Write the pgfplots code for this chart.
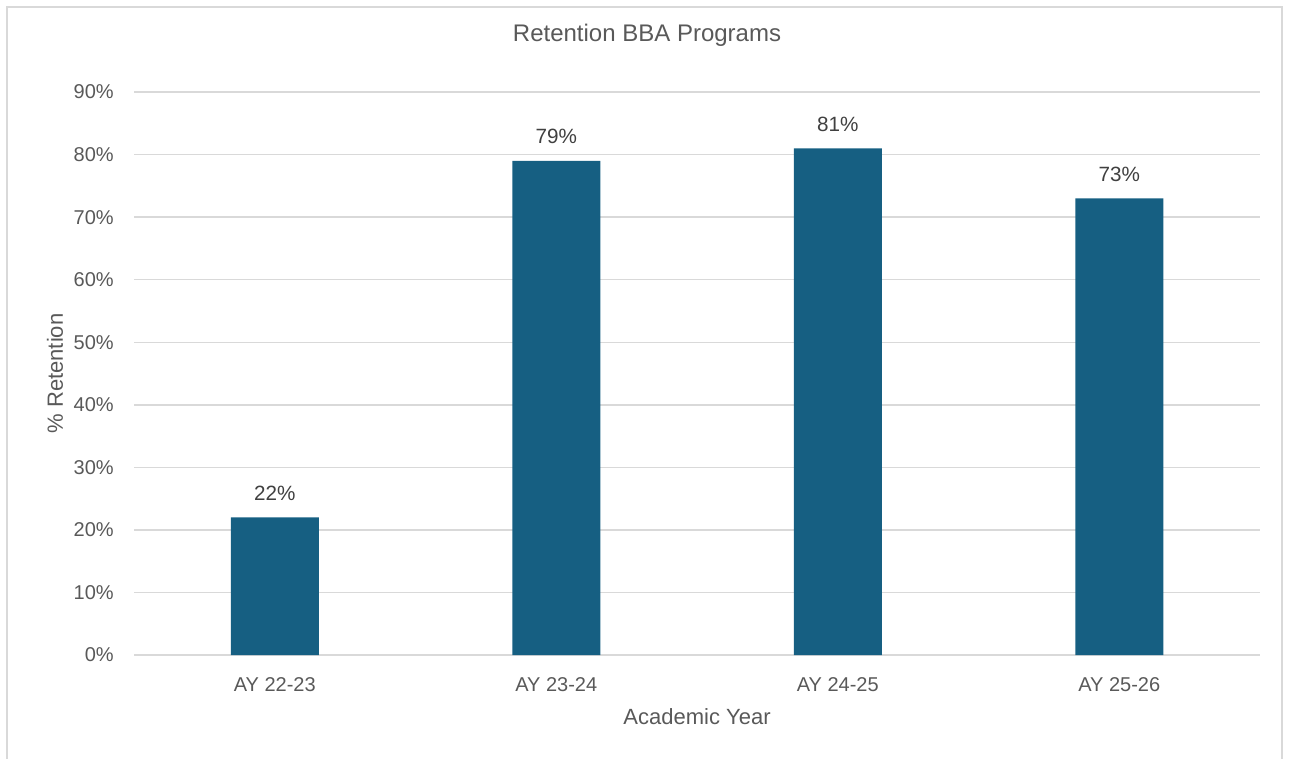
\documentclass[border=0pt]{standalone}
\usepackage{fontspec}
\setmainfont{Liberation Sans}
\usepackage{pgfplots}
\pgfplotsset{compat=1.18}
\definecolor{barblue}{RGB}{22,95,130}
\definecolor{gridgray}{RGB}{217,217,217}
\definecolor{txtgray}{RGB}{89,89,89}
\definecolor{lblgray}{RGB}{64,64,64}
\begin{document}
\begin{tikzpicture}[x=0.75pt,y=0.75pt]
\useasboundingbox (0,0) rectangle (1289,-758);
\draw[gridgray, line width=1.1pt] (7,-7) rectangle (1282,-780);
\begin{axis}[
  at={(100.5pt,-491.25pt)}, anchor=south west,
  scale only axis, width=844.5pt, height=422.25pt,
  ybar, bar width=66pt,
  xmin=-0.5, xmax=3.5, ymin=0, ymax=90,
  xtick=data,
  xticklabels={AY 22-23, AY 23-24, AY 24-25, AY 25-26},
  ytick={0,10,20,30,40,50,60,70,80,90},
  /pgf/number format/assume math mode=true,
  yticklabel={\pgfmathprintnumber{\tick}\%},
  major tick length=0pt,
  axis line style={draw=none},
  ymajorgrids, grid style={gridgray, line width=1.1pt},
  tick label style={font=\fontsize{15}{18}\selectfont, text=txtgray},
  yticklabel style={anchor=east, inner sep=0pt, xshift=-15pt},
  xticklabel style={anchor=center, inner sep=0pt, yshift=-22.5pt},
  title={Retention BBA Programs},
  title style={at={(axis description cs:0.4556,1.087)}, anchor=center, font=\fontsize{18}{22}\selectfont, text=txtgray},
  xlabel={Academic Year},
  xlabel style={at={(axis description cs:0.5,-0.1101)}, anchor=center, font=\fontsize{16.5}{20}\selectfont, text=txtgray},
  ylabel={\% Retention},
  ylabel style={at={(axis description cs:-0.0702,0.5)}, anchor=center, rotate=0, font=\fontsize{16.5}{20}\selectfont, text=txtgray},
  nodes near coords={\pgfmathprintnumber{\pgfplotspointmeta}\%},
  every node near coord/.append style={anchor=center, yshift=18pt, font=\fontsize{15.5}{18}\selectfont, text=lblgray},
  clip=false,
]
\addplot[fill=barblue, draw=none] coordinates {(0,22) (1,79) (2,81) (3,73)};
\end{axis}
\end{tikzpicture}
\end{document}
